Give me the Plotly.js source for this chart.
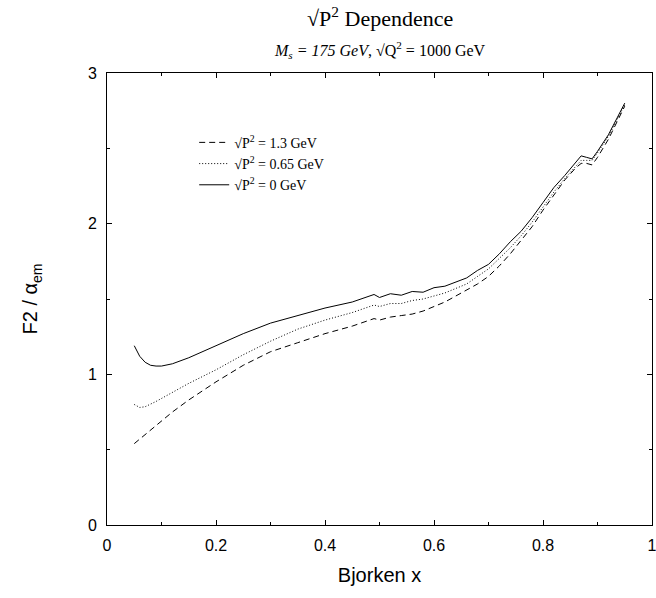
<!DOCTYPE html>
<html>
<head>
<meta charset="utf-8">
<script src="https://cdn.plot.ly/plotly-3.0.1.min.js"></script>
<style>html,body{margin:0;padding:0;background:#fff;}</style>
</head>
<body>
<div id="chart" style="width:656px;height:598px;"></div>
<script>
var xVals = [0.05,0.06,0.07,0.08,0.09,0.10,0.12,0.15,0.20,0.25,0.30,0.35,0.40,0.45,0.49,0.50,0.52,0.54,0.56,0.58,0.60,0.62,0.64,0.66,0.68,0.70,0.72,0.74,0.76,0.78,0.80,0.82,0.84,0.86,0.87,0.88,0.89,0.90,0.92,0.95];
var f2P13 = [0.54,0.57,0.60,0.63,0.66,0.69,0.75,0.83,0.95,1.06,1.15,1.21,1.27,1.32,1.37,1.36,1.38,1.39,1.40,1.42,1.45,1.48,1.52,1.56,1.60,1.65,1.72,1.80,1.89,1.98,2.09,2.19,2.29,2.37,2.40,2.40,2.39,2.44,2.56,2.78];
var f2P065 = [0.80,0.78,0.785,0.80,0.82,0.84,0.88,0.94,1.03,1.13,1.22,1.30,1.36,1.41,1.46,1.45,1.47,1.47,1.49,1.50,1.52,1.54,1.57,1.60,1.65,1.70,1.77,1.84,1.92,2.01,2.11,2.21,2.30,2.38,2.42,2.42,2.42,2.47,2.58,2.79];
var f2P0 = [1.19,1.12,1.08,1.06,1.055,1.055,1.07,1.11,1.19,1.27,1.34,1.39,1.44,1.48,1.53,1.51,1.535,1.525,1.55,1.545,1.575,1.585,1.615,1.64,1.69,1.73,1.80,1.88,1.95,2.04,2.14,2.24,2.32,2.41,2.45,2.44,2.43,2.48,2.59,2.80];
var seriesNames = ["√P<sup>2</sup> = 1.3 GeV","√P<sup>2</sup> = 0.65 GeV","√P<sup>2</sup> = 0 GeV"];
var xTicks = [0,0.2,0.4,0.6,0.8,1];
var xTickText = ["0","0.2","0.4","0.6","0.8","1"];
var yTicks = [0,1,2,3];
var yTickText = ["0","1","2","3"];

var serif = "Liberation Serif";
var sans = "Liberation Sans";

var traces = [
  {x:xVals, y:f2P13, name:seriesNames[0], mode:'lines', line:{color:'#000', width:1, dash:'6px,4px'}},
  {x:xVals, y:f2P065, name:seriesNames[1], mode:'lines', line:{color:'#000', width:1, dash:'1px,2px'}},
  {x:xVals, y:f2P0, name:seriesNames[2], mode:'lines', line:{color:'#000', width:1}}
];

var axisCommon = {
  showgrid:false, zeroline:false, showline:true, linecolor:'#000', linewidth:1,
  ticks:'inside', ticklen:5, tickcolor:'#000', mirror:'allticks',
  ticklabeloverflow:'allow',
  tickfont:{family:sans, size:16, color:'#000'}
};

var layout = {
  width:656, height:598,
  margin:{l:107, r:4, t:73, b:73},
  paper_bgcolor:'#fff', plot_bgcolor:'#fff',
  showlegend:true,
  legend:{x:0.16, y:0.881, xanchor:'left', yanchor:'top', bgcolor:'rgba(0,0,0,0)',
          font:{family:serif, size:14, color:'#000'}, tracegroupgap:0},
  xaxis:Object.assign({}, axisCommon, {
    range:[0,1], tickvals:xTicks, ticktext:xTickText, ticklabelstandoff:6,
    minor:{dtick:0.1, tick0:0, ticks:'inside', ticklen:3, tickcolor:'#000'},
    title:{text:'Bjorken x', font:{family:sans, size:20, color:'#000'}, standoff:14}
  }),
  yaxis:Object.assign({}, axisCommon, {
    range:[0,3], tickvals:yTicks, ticktext:yTickText, ticklabelstandoff:6,
    minor:{dtick:0.5, tick0:0, ticks:'inside', ticklen:3, tickcolor:'#000'},
    title:{text:'F2 / α<sub>em</sub>', font:{family:sans, size:20, color:'#000'}, standoff:44}
  }),
  annotations:[
    {xref:'paper', yref:'paper', x:0.5, y:1, yshift:56, xanchor:'center', yanchor:'middle', showarrow:false,
     text:'√P<sup>2</sup> Dependence', font:{family:serif, size:22, color:'#000'}},
    {xref:'paper', yref:'paper', x:0.5, y:1, yshift:23, xanchor:'center', yanchor:'middle', showarrow:false,
     text:'<i>M<sub>s</sub> = 175 GeV</i>, √Q<sup>2</sup> = 1000 GeV', font:{family:serif, size:16, color:'#000'}}
  ]
};

Plotly.newPlot('chart', traces, layout, {displayModeBar:false, staticPlot:true});
</script>
</body>
</html>
